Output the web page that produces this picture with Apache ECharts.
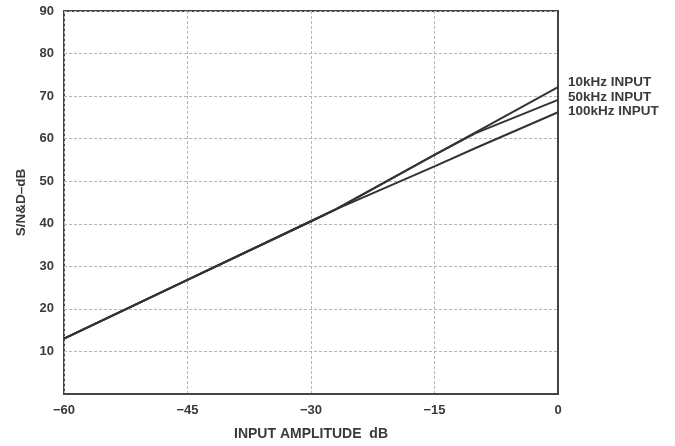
<!DOCTYPE html>
<html>
<head>
<meta charset="utf-8">
<script src="https://cdn.jsdelivr.net/npm/echarts@6/dist/echarts.min.js"></script>
<style>
html,body{margin:0;padding:0;background:#fff;}
#chart{width:675px;height:446px;}
</style>
</head>
<body>
<div id="chart"></div>
<script>
// Data
const inputDb    = [-60, -45, -30, -27, -15, -10, 0];
const series10k  = [13, 26.8, 40.6, 43.4, 56.2, 61.5, 72.1];
const series50k  = [13, 26.8, 40.6, 43.4, 56.2, 61.3, 69.1];
const series100k = [13, 26.8, 40.6, 43.4, 53.5, 57.8, 66.2];
const seriesNames = ['10kHz INPUT', '50kHz INPUT', '100kHz INPUT'];
const xTicks = [-60, -45, -30, -15, 0];
const yTicks = [10, 20, 30, 40, 50, 60, 70, 80, 90];

const ink = '#3a3a3a';
const font = 'Liberation Sans, Arial, sans-serif';

function pairs(vals) { return inputDb.map((x, i) => [x, vals[i]]); }

const labelOffsets = [[0, -5], [0, -3], [0, -1]];
const allVals = [series10k, series50k, series100k];

const chart = echarts.init(document.getElementById('chart'), null, {renderer: 'canvas'});
chart.setOption({
  animation: false,
  backgroundColor: '#fff',
  grid: {left: 64, right: 117, top: 11, bottom: 50, show: true, borderColor: '#444', borderWidth: 2, containLabel: false},
  xAxis: {
    type: 'value', min: -60, max: 0, interval: 15,
    name: 'INPUT AMPLITUDE  dB', nameLocation: 'middle', nameGap: 33,
    nameTextStyle: {color: ink, fontWeight: 'bold', fontSize: 14, fontFamily: font},
    axisLine: {show: true, lineStyle: {color: '#444', width: 2}},
    axisTick: {show: false},
    axisLabel: {color: ink, fontWeight: 'bold', fontSize: 13, fontFamily: font, margin: 10,
      formatter: v => xTicks.includes(v) ? (v < 0 ? '\u2212' + Math.abs(v) : String(v)) : ''},
    splitLine: {show: true, lineStyle: {color: '#b5b5b5', width: 1, type: [3, 2]}}
  },
  yAxis: {
    type: 'value', min: 0, max: 90, interval: 10,
    name: 'S/N&D\u2013dB', nameLocation: 'middle', nameGap: 36,
    nameTextStyle: {color: ink, fontWeight: 'bold', fontSize: 13.5, fontFamily: font},
    axisLine: {show: true, lineStyle: {color: '#444', width: 2}},
    axisTick: {show: false},
    axisLabel: {color: ink, fontWeight: 'bold', fontSize: 13, fontFamily: font, margin: 10,
      formatter: v => yTicks.includes(v) ? String(v) : ''},
    splitLine: {show: true, lineStyle: {color: '#b5b5b5', width: 1, type: [3, 2]}}
  },
  series: seriesNames.map((name, i) => ({
    name: name, type: 'line', data: pairs(allVals[i]),
    showSymbol: false, symbol: 'none',
    lineStyle: {color: '#333', width: 2},
    z: 3 - i,
    endLabel: {show: true, formatter: name, color: ink, fontWeight: 'bold', fontSize: 13.5,
      fontFamily: font, distance: 10, offset: labelOffsets[i]}
  }))
});
</script>
</body>
</html>
